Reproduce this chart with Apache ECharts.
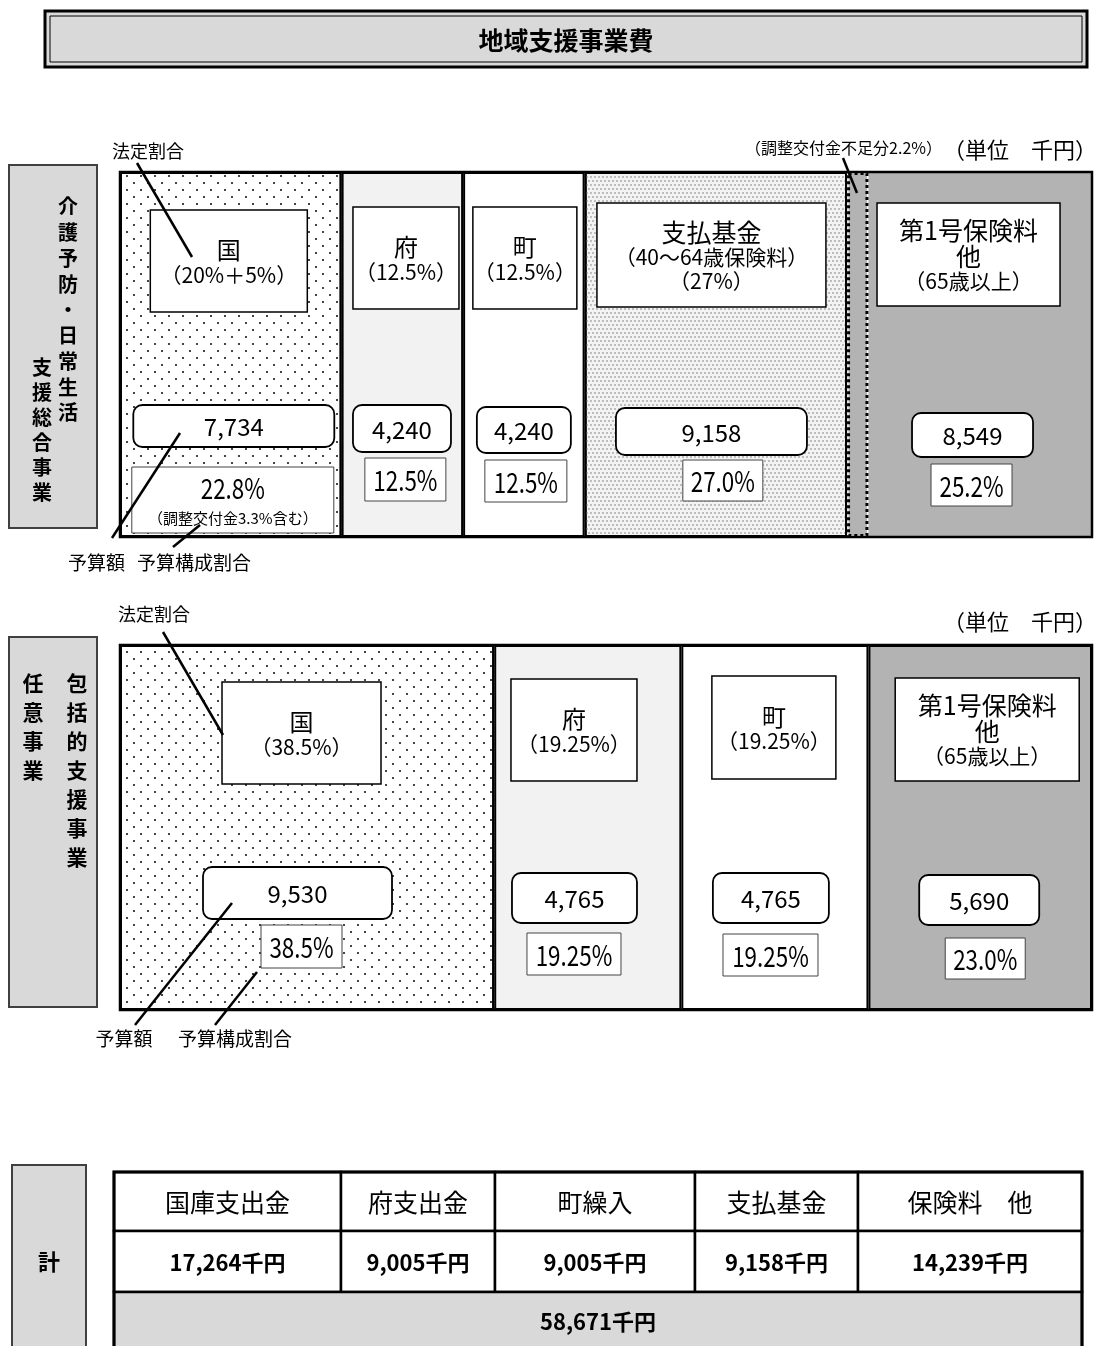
<!DOCTYPE html>
<html><head><meta charset="utf-8">
<script src="https://cdn.jsdelivr.net/npm/echarts@6/dist/echarts.min.js"></script>
<style>html,body{margin:0;padding:0;background:#fff}#c{width:1101px;height:1346px}</style>
</head><body><div id="c"></div>
<script>
// ---------------- DATA ----------------
const chartTitle = '地域支援事業費';
const unitLabel = '（単位　千円）';

// Section 1: 介護予防・日常生活支援総合事業
const s1Side = ['介護予防・日常生活', '支援総合事業'];
const s1Names = ['国', '府', '町', '支払基金', '調整交付金不足分', '第1号保険料他'];
const s1Shares = [22.8, 12.5, 12.5, 27.0, 2.2, 23.0];
const s1Heads = ['国', '府', '町', '支払基金', null, '第1号保険料\n他'];
const s1Statutory = ['（20%＋5%）', '（12.5%）', '（12.5%）', '（40～64歳保険料）\n（27%）', null, '（65歳以上）'];
const s1Budget = [7734, 4240, 4240, 9158, null, 8549];
const s1BudgetShare = ['22.8%', '12.5%', '12.5%', '27.0%', null, '25.2%'];
const s1BudgetNote = ['（調整交付金3.3%含む）', null, null, null, null, null];
const s1ShortfallNote = '（調整交付金不足分2.2%）';

// Section 2: 包括的支援事業・任意事業
const s2Side = ['包括的支援事業', '任意事業'];
const s2Names = ['国', '府', '町', '第1号保険料他'];
const s2Shares = [38.5, 19.25, 19.25, 23.0];
const s2Heads = ['国', '府', '町', '第1号保険料\n他'];
const s2Statutory = ['（38.5%）', '（19.25%）', '（19.25%）', '（65歳以上）'];
const s2Budget = [9530, 4765, 4765, 5690];
const s2BudgetShare = ['38.5%', '19.25%', '19.25%', '23.0%'];

// Annotation texts
const noteStatutory = '法定割合';
const noteBudget = '予算額';
const noteBudgetShare = '予算構成割合';

// Totals table
const tableSide = '計';
const tableHeads = ['国庫支出金', '府支出金', '町繰入', '支払基金', '保険料　他'];
const tableValues = [17264, 9005, 9005, 9158, 14239];
const tableTotal = 58671;

// ---------------- LAYOUT / STYLE ----------------
const FONT = "'Noto Sans CJK JP', 'Noto Sans', sans-serif";
const dotsSparse = { symbol: 'rect', symbolSize: 1, color: '#444', dashArrayX: [[2, 12], [0, 7, 2, 5]], dashArrayY: [2, 5], rotation: 0 };
const dotsFine = { symbol: 'rect', symbolSize: 1, color: '#bdbdbd', dashArrayX: [[1.5, 1.5], [0, 1.5, 1.5, 0]], dashArrayY: [1.5, 1.5], rotation: 0 };

const s1Styles = [
  { color: '#ffffff', decal: dotsSparse },
  { color: '#f2f2f2' },
  { color: '#ffffff' },
  { color: '#f3f3f3', decal: dotsFine },
  { color: '#b3b3b3', borderType: 'dotted', borderWidth: 3, z: 4 },
  { color: '#b3b3b3', borderWidth: 0 }
];
const s2Styles = [
  { color: '#ffffff', decal: dotsSparse },
  { color: '#f2f2f2' },
  { color: '#ffffff' },
  { color: '#b3b3b3' }
];
const s1Span = [[0, 0], [1, 1], [2, 2], [3, 3], null, [4, 5]];
const s2Span = [[0, 0], [1, 1], [2, 2], [3, 3]];

const s1L = {
  boxTop: [210, 207, 207, 203, null, 203], boxW: [157, 106, 104, 229, null, 183], boxH: [102, 102, 102, 104, null, 103], boxDx: [-2, 3.6, 1, -4.4, null, -1],
  rTop: [405, 405, 407, 408, null, 413], rW: [201, 98, 94, 191, null, 121], rH: [42, 47, 46, 47, null, 44], rDx: [3, -0.4, 0, -4.4, null, 3],
  pTop: [467, 458, 460, 460, null, 464], pW: [202, 81, 82, 80, null, 81], pH: [66, 43, 42, 41, null, 42], pDx: [2, 3, 2, 7, null, 2]
};
const s2L = {
  boxTop: [682, 679, 676, 678], boxW: [159, 126, 124, 184], boxH: [102, 102, 103, 103], boxDx: [-5.6, -13.8, -1, 7],
  rTop: [867, 873, 873, 875], rW: [189, 125, 116, 120], rH: [52, 50, 50, 50], rDx: [-9.6, -13.3, -4, -1],
  pTop: [925, 933, 934, 938], pW: [81, 94, 95, 80], pH: [43, 42, 42, 41], pDx: [-5.6, -13.8, -4.4, 5]
};

// ---------------- CHART ----------------
const chart = echarts.init(document.getElementById('c'), null, { renderer: 'canvas' });

function buildSeries(names, shares, styles, gi) {
  return names.map((n, i) => {
    const st = styles[i];
    return {
      name: n, type: 'bar', stack: 'sec' + gi, xAxisIndex: gi, yAxisIndex: gi,
      barWidth: '100%', silent: true, z: st.z || 2,
      data: [shares[i]],
      itemStyle: {
        color: st.color, borderColor: '#000',
        borderWidth: st.borderWidth !== undefined ? st.borderWidth : 2,
        borderType: st.borderType || 'solid',
        decal: st.decal || null
      }
    };
  });
}

chart.setOption({
  animation: false,
  textStyle: { fontFamily: FONT },
  grid: [
    { left: 120, top: 172, width: 972, height: 365, show: false },
    { left: 120, top: 645, width: 972, height: 365, show: false }
  ],
  xAxis: [
    { gridIndex: 0, type: 'value', min: 0, max: 100, show: false },
    { gridIndex: 1, type: 'value', min: 0, max: 100, show: false }
  ],
  yAxis: [
    { gridIndex: 0, type: 'category', data: ['sec1'], show: false },
    { gridIndex: 1, type: 'category', data: ['sec2'], show: false }
  ],
  series: buildSeries(s1Names, s1Shares, s1Styles, 0).concat(buildSeries(s2Names, s2Shares, s2Styles, 1))
});

// ---------------- ANNOTATIONS ----------------
const G = [];
function rect(x, y, w, h, o) {
  o = o || {};
  G.push({ type: 'rect', z: o.z || 10, silent: true,
    shape: { x: x, y: y, width: w, height: h, r: o.r || 0 },
    style: { fill: o.fill === undefined ? '#fff' : o.fill, stroke: o.stroke || '#000', lineWidth: o.lw === undefined ? 1.5 : o.lw, lineDash: o.dash || null } });
}
function text(x, y, str, o) {
  o = o || {};
  G.push({ type: 'text', z: o.z || 12, silent: true, x: x, y: y, scaleX: o.sx || 1,
    style: { text: str, x: 0, y: 0, align: o.align || 'center', verticalAlign: o.va || 'middle',
      fill: o.color || '#000', fontFamily: FONT, fontSize: o.size || 16, fontWeight: o.weight || 'normal',
      lineHeight: o.lh || undefined, rich: o.rich || undefined } });
}
function line(x1, y1, x2, y2, lw) {
  G.push({ type: 'line', z: 13, silent: true, shape: { x1: x1, y1: y1, x2: x2, y2: y2 }, style: { stroke: '#000', lineWidth: lw || 2.5 } });
}
function xPix(gi, v) { return chart.convertToPixel({ xAxisIndex: gi }, v); }
function sum(a, n) { let s = 0; for (let i = 0; i < n; i++) s += a[i]; return s; }
function spanCenter(gi, shares, a, b) {
  return (xPix(gi, sum(shares, a)) + xPix(gi, sum(shares, b + 1))) / 2;
}
const fmt = n => n.toLocaleString('en-US');

// Title
rect(45, 11, 1042, 56, { fill: '#d9d9d9', lw: 3 });
rect(50, 16, 1032, 46, { fill: null, lw: 1 });
text(566, 40, chartTitle, { size: 25, weight: 'bold' });

function headRich(head, sub, bigHead) {
  const hs = bigHead ? 25 : 24;
  const parts = head.split('\n').map(h => '{h|' + h + '}');
  sub.split('\n').forEach(s => parts.push('{s|' + s + '}'));
  return { text: parts.join('\n'), rich: {
    h: { fontSize: hs, lineHeight: 26, fontFamily: FONT, fill: '#000' },
    s: { fontSize: 21, lineHeight: 24, fontFamily: FONT, fill: '#000' } } };
}

function section(gi, shares, spans, heads, stat, budget, bshare, bnote, L) {
  const gTop = gi === 0 ? 172 : 645;
  const x0 = xPix(gi, 0), x1 = xPix(gi, 100);
  for (let i = 0; i < heads.length; i++) {
    if (!spans[i] || heads[i] === null) continue;
    const c = spanCenter(gi, shares, spans[i][0], spans[i][1]);
    // statutory box
    const bx = c + L.boxDx[i];
    rect(bx - L.boxW[i] / 2, L.boxTop[i], L.boxW[i], L.boxH[i], { lw: 1.5 });
    const hr = headRich(heads[i], stat[i], heads[i].length > 1);
    text(bx, L.boxTop[i] + L.boxH[i] / 2 + 1, hr.text, { rich: hr.rich });
    // budget (rounded)
    const rx = c + L.rDx[i];
    rect(rx - L.rW[i] / 2, L.rTop[i], L.rW[i], L.rH[i], { r: 9, lw: 1.8 });
    text(rx, L.rTop[i] + L.rH[i] / 2 + 1, fmt(budget[i]), { size: 24 });
    // budget share
    const px = c + L.pDx[i];
    rect(px - L.pW[i] / 2, L.pTop[i], L.pW[i], L.pH[i], { lw: 1, stroke: '#444' });
    if (bnote && bnote[i]) {
      text(px, L.pTop[i] + 21, bshare[i], { size: 28, sx: 0.8 });
      text(px, L.pTop[i] + 51, bnote[i], { size: 15 });
    } else {
      text(px, L.pTop[i] + L.pH[i] / 2 + 1, bshare[i], { size: 28, sx: 0.8 });
    }
  }
  // outer frame on top
  rect(x0, gTop, x1 - x0, 365, { fill: null, lw: 2.5, z: 9 });
}

section(0, s1Shares, s1Span, s1Heads, s1Statutory, s1Budget, s1BudgetShare, s1BudgetNote, s1L);
section(1, s2Shares, s2Span, s2Heads, s2Statutory, s2Budget, s2BudgetShare, null, s2L);

// Side labels
rect(9, 165, 88, 363, { fill: '#d9d9d9', stroke: '#404040', lw: 2 });
text(68, 194, s1Side[0].split('').join('\n'), { size: 20, weight: 'bold', va: 'top', lh: 25.75 });
text(42, 354.5, s1Side[1].split('').join('\n'), { size: 20, weight: 'bold', va: 'top', lh: 25 });
rect(9, 637, 88, 370, { fill: '#d9d9d9', stroke: '#404040', lw: 2 });
text(77, 668.5, s2Side[0].split('').join('\n'), { size: 21, weight: 'bold', va: 'top', lh: 29 });
text(33, 668.5, s2Side[1].split('').join('\n'), { size: 21, weight: 'bold', va: 'top', lh: 29 });

// Unit labels & notes (section 1)
text(1097, 150, unitLabel, { size: 22, align: 'right' });
text(942, 148, s1ShortfallNote, { size: 16, align: 'right' });
line(843, 158, 857, 193, 2.5);
text(148, 151, noteStatutory, { size: 18 });
line(137, 163, 192, 257);
text(68, 563, noteBudget, { size: 19, align: 'left' });
text(137, 563, noteBudgetShare, { size: 19, align: 'left' });
line(112, 538, 180, 433);
line(173, 547, 200, 525);

// Section 2 notes
text(1097, 622, unitLabel, { size: 22, align: 'right' });
text(154, 614, noteStatutory, { size: 18 });
line(163, 632, 223, 735);
text(124, 1039, noteBudget, { size: 19 });
text(235, 1039, noteBudgetShare, { size: 19 });
line(135, 1025, 232, 903);
line(215, 1025, 257, 972);

// Totals table
const colX = [114, 341, 495, 695, 858, 1082];
const rowY = [1172, 1231, 1292, 1366];
rect(12, 1165, 74, 200, { fill: '#d9d9d9', stroke: '#404040', lw: 2 });
text(49, 1262, tableSide, { size: 22, weight: 'bold' });
for (let i = 0; i < tableHeads.length; i++) {
  rect(colX[i], rowY[0], colX[i + 1] - colX[i], rowY[1] - rowY[0], { lw: 2.5 });
  rect(colX[i], rowY[1], colX[i + 1] - colX[i], rowY[2] - rowY[1], { lw: 2.5 });
  const cx = (colX[i] + colX[i + 1]) / 2;
  text(cx, (rowY[0] + rowY[1]) / 2 + 1, tableHeads[i], { size: 25 });
  text(cx, (rowY[1] + rowY[2]) / 2 + 1, fmt(tableValues[i]) + '千円', { size: 22, weight: 'bold' });
}
rect(colX[0], rowY[2], colX[5] - colX[0], rowY[3] - rowY[2], { fill: '#d9d9d9', lw: 2.5 });
text((colX[0] + colX[5]) / 2, 1322, fmt(tableTotal) + '千円', { size: 22, weight: 'bold' });
rect(colX[0], rowY[0], colX[5] - colX[0], rowY[3] - rowY[0], { fill: null, lw: 3, z: 11 });

chart.setOption({ graphic: { elements: G } });
</script>
</body></html>
